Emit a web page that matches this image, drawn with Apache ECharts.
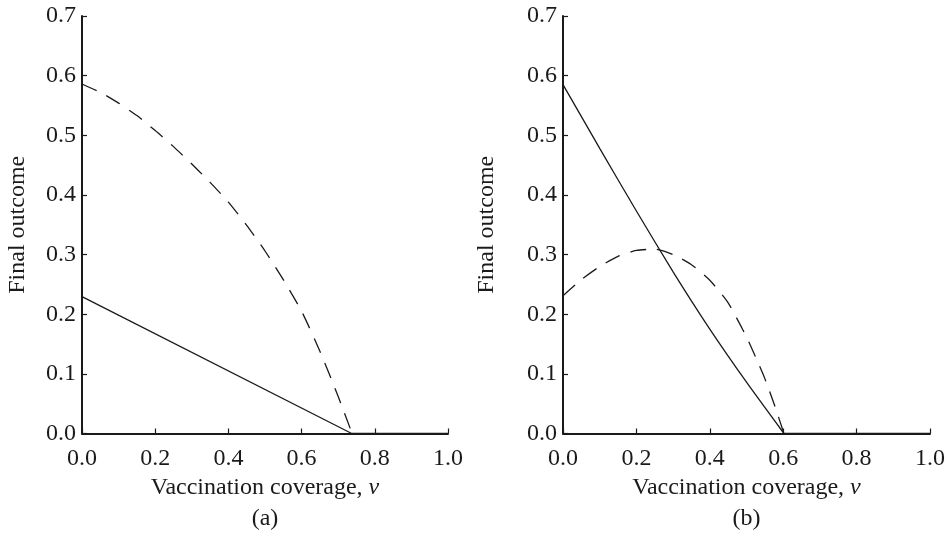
<!DOCTYPE html>
<html>
<head>
<meta charset="utf-8">
<script src="https://cdn.jsdelivr.net/npm/echarts@6/dist/echarts.min.js"></script>
<style>html,body{margin:0;padding:0;background:#fff;}#c{width:948px;height:536px;}</style>
</head>
<body>
<div id="c"></div>
<script>
// Panel (a)
const solidA = [[0,0.2295],[0.737,0]];
const dashedA = [[0,0.586],[0.05,0.572],[0.1,0.554],[0.15,0.533],[0.2,0.508],[0.25,0.481],[0.3,0.452],[0.35,0.421],[0.4,0.388],[0.45,0.349],[0.5,0.306],[0.55,0.258],[0.6,0.205],[0.65,0.138],[0.7,0.062],[0.738,0]];
const tailA = [[0.737,0],[1.0,0]];
// Panel (b)
const solidB = [[0,0.585],[0.1,0.478],[0.2,0.373],[0.3,0.271],[0.4,0.175],[0.5,0.086],[0.602,0]];
const dashedB = [[0,0.231],[0.05,0.258],[0.1,0.280],[0.15,0.297],[0.2,0.307],[0.25,0.309],[0.3,0.300],[0.35,0.283],[0.4,0.257],[0.45,0.219],[0.5,0.162],[0.525,0.128],[0.55,0.092],[0.575,0.050],[0.602,0]];
const tailB = [[0.602,0],[1.0,0]];
const panelLabels = ['(a)','(b)'];
const xTitle = 'Vaccination coverage, ';
const yTitle = 'Final outcome';

const FONT = '"Liberation Serif", "Times New Roman", serif';
const ink = '#1a1a1a';

function xAxis(i, label){
  return {
    type:'value', gridIndex:i, min:0, max:1, interval:0.2,
    axisLine:{show:true, lineStyle:{color:ink, width:2}},
    axisTick:{show:true, inside:true, length:5, lineStyle:{color:ink, width:1.2}},
    axisLabel:{fontFamily:FONT, fontSize:24, color:ink, margin:13, formatter:v=>v.toFixed(1)},
    splitLine:{show:false},
    name:'{n|'+xTitle+'}{i|v}\n{n|'+label+'}',
    nameLocation:'middle', nameGap:39,
    nameTextStyle:{fontFamily:FONT, color:ink, rich:{
      n:{fontFamily:FONT, fontSize:24, color:ink, lineHeight:31},
      i:{fontFamily:FONT, fontSize:24, color:ink, fontStyle:'italic', lineHeight:31}
    }}
  };
}
function yAxis(i, gap){
  return {
    type:'value', gridIndex:i, min:0, max:0.7, interval:0.1,
    axisLine:{show:true, lineStyle:{color:ink, width:2}},
    axisTick:{show:true, inside:true, length:5, lineStyle:{color:ink, width:1.2}},
    axisLabel:{fontFamily:FONT, fontSize:24, color:ink, margin:6, formatter:v=>v.toFixed(1)},
    splitLine:{show:false},
    name:yTitle, nameLocation:'middle', nameGap:gap,
    nameTextStyle:{fontFamily:FONT, fontSize:24, color:ink}
  };
}
function line(i, data, dashed, smooth){
  return {
    type:'line', xAxisIndex:i, yAxisIndex:i, data:data, showSymbol:false, symbol:'none',
    smooth:smooth,
    lineStyle:{color:ink, width:1.3, type: dashed ? [16,11] : 'solid'},
    silent:true, animation:false
  };
}

const chart = echarts.init(document.getElementById('c'), null, {renderer:'canvas'});
chart.setOption({
  animation:false,
  backgroundColor:'#fff',
  grid:[
    {left:82, top:16, width:366, height:420},
    {left:563, top:16, width:367, height:420}
  ],
  xAxis:[xAxis(0, panelLabels[0]), xAxis(1, panelLabels[1])],
  yAxis:[yAxis(0, 52), yAxis(1, 64)],
  series:[
    line(0, solidA, false, false),
    line(0, dashedA, true, 0.2),
    line(0, tailA, false, false),
    line(1, solidB, false, 0.2),
    line(1, dashedB, true, 0.2),
    line(1, tailB, false, false)
  ]
});
</script>
</body>
</html>
